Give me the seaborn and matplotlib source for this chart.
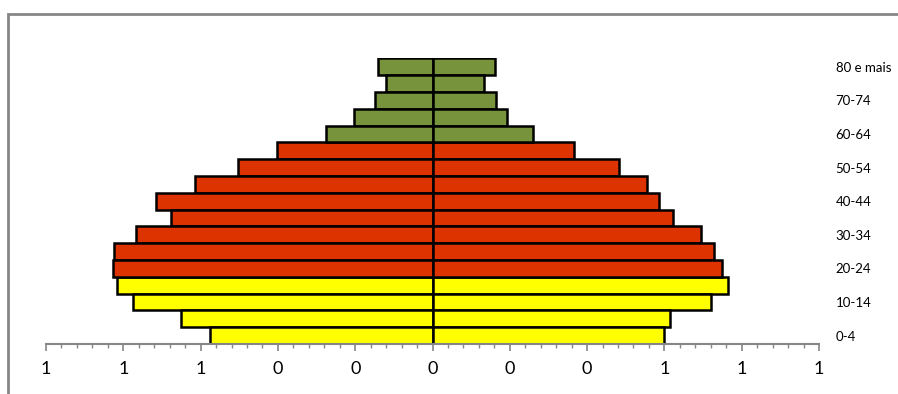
import matplotlib
matplotlib.use("Agg")
import matplotlib.pyplot as plt
from matplotlib.ticker import MultipleLocator, FuncFormatter
from matplotlib.patches import Rectangle
import seaborn as sns
import pandas as pd

# Age groups from youngest to oldest
ages = ["0-4", "5-9", "10-14", "15-19", "20-24", "25-29", "30-34", "35-39",
        "40-44", "45-49", "50-54", "55-59", "60-64", "65-69", "70-74",
        "75-79", "80 e mais"]
# Share of population per age group (left side and right side of the pyramid)
left_side = [0.575, 0.651, 0.776, 0.817, 0.826, 0.824, 0.767, 0.677, 0.715,
             0.614, 0.503, 0.402, 0.275, 0.203, 0.149, 0.121, 0.141]
right_side = [0.599, 0.614, 0.721, 0.764, 0.750, 0.728, 0.695, 0.621, 0.587,
              0.556, 0.482, 0.365, 0.259, 0.192, 0.164, 0.133, 0.163]
# Broad life-stage group of each age bracket
stage = ["jovem"] * 4 + ["adulto"] * 8 + ["idoso"] * 5
stage_colors = {"jovem": "#FFFF00", "adulto": "#DD3300", "idoso": "#77933C"}

order = ages[::-1]
df = pd.DataFrame({"idade": ages, "esq": [-v for v in left_side],
                   "dir": right_side, "grupo": stage})

sns.set_style("white")
plt.rcParams["font.family"] = ["Lato", "DejaVu Sans"]

fig = plt.figure(figsize=(8.98, 3.94), dpi=100)
ax = fig.add_axes([46 / 898, 1 - 344 / 394, 773 / 898, (344 - 58.5) / 394])

for col in ["esq", "dir"]:
    sns.barplot(data=df, x=col, y="idade", hue="grupo", order=order,
                palette=stage_colors, dodge=False, width=1.0, legend=False,
                saturation=1, edgecolor="black", linewidth=1.8, orient="h",
                ax=ax)

ax.set_xlim(-1.0, 1.0)
ax.set_ylim(len(ages) - 0.5, -0.5)
ax.xaxis.set_major_locator(MultipleLocator(0.2))
ax.xaxis.set_minor_locator(MultipleLocator(0.04))
ax.xaxis.set_major_formatter(FuncFormatter(lambda v, p: f"{abs(v):.0f}"))
ax.tick_params(axis="x", which="major", length=5, width=1.2, color="#868686",
               pad=7, labelsize=13, labelcolor="black", bottom=True)
ax.tick_params(axis="x", which="minor", length=3, width=1.0, color="#868686",
               bottom=True)

# Category labels on the right, every second age bracket
label_pos = [order.index(a) for a in ages[::2]]
ax.yaxis.tick_right()
ax.set_yticks(label_pos)
ax.set_yticklabels(ages[::2])
ax.tick_params(axis="y", length=0, pad=12, labelsize=9.5, labelcolor="black")

ax.set_xlabel("")
ax.set_ylabel("")
for side in ["top", "left", "right"]:
    ax.spines[side].set_visible(False)
ax.spines["bottom"].set_color("#868686")
ax.spines["bottom"].set_linewidth(1.5)

# Chart frame
fig.patches.append(Rectangle((8 / 898, -0.1), 1.2, (394 - 14) / 394 + 0.1,
                             transform=fig.transFigure, fill=False,
                             edgecolor="#868686", linewidth=2))

fig.savefig("out.png", dpi=100)
